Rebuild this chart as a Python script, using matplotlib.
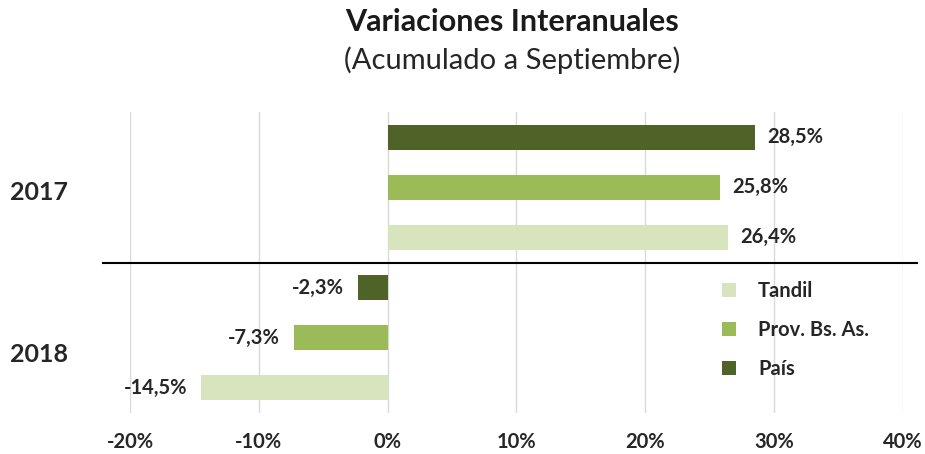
import numpy as np
import matplotlib.pyplot as plt
import matplotlib.transforms as mtransforms
from matplotlib.patches import Patch

plt.rcParams['font.family'] = ['Lato', 'DejaVu Sans']

# data
years = ['2017', '2018']
series = ['Tandil', 'Prov. Bs. As.', 'País']
values = {
    '2017': [26.4, 25.8, 28.5],
    '2018': [-14.5, -7.3, -2.3],
}
colors = ['#d7e4bd', '#9bbb59', '#4f6228']
xticks = [-20, -10, 0, 10, 20, 30, 40]

fig = plt.figure(figsize=(9.25, 4.54), dpi=100)
ax = fig.add_axes([0.1405, 0.0903, 0.8357, 0.663])

# bars: within each year País on top, Tandil at the bottom
n = len(series)
for g, yr in enumerate(years):
    for i, (name, val) in enumerate(zip(series, values[yr])):
        ypos = g * n + (n - 1 - i)
        ax.barh(ypos, val, height=0.5, color=colors[i], zorder=3)
        lbl = f'{val:.1f}%'.replace('.', ',')
        if val >= 0:
            ax.annotate(lbl, (val, ypos), xytext=(9, 0), textcoords='offset points',
                        ha='left', va='center', fontsize=14.5, fontweight='bold', color='#262626')
        else:
            ax.annotate(lbl, (val, ypos), xytext=(-10, 0), textcoords='offset points',
                        ha='right', va='center', fontsize=14.5, fontweight='bold', color='#262626')

ax.set_xlim(-20, 40)
ax.set_ylim(2 * n - 0.5, -0.5)
ax.set_xticks(xticks)
ax.set_xticklabels([f'{t}%' for t in xticks], fontsize=14.5, fontweight='bold', color='#262626')
ax.set_yticks([])
ax.tick_params(axis='x', length=0, pad=14)
ax.grid(axis='x', color='#d9d9d9', lw=1, zorder=0)
for s in ax.spines.values():
    s.set_visible(False)

# separator between years
trans = mtransforms.blended_transform_factory(ax.transAxes, ax.transData)
ax.plot([-0.035, 1.018], [n - 0.5, n - 0.5], color='black', lw=1.5,
        transform=trans, clip_on=False, zorder=4)

# year labels
fig.text(39 / 925, 1 - 193 / 454, '2017', ha='center', va='center',
         fontsize=18, fontweight='bold', color='#262626')
fig.text(39 / 925, 1 - 355 / 454, '2018', ha='center', va='center',
         fontsize=18, fontweight='bold', color='#262626')

# titles
fig.text(512 / 925, 1 - 22 / 454, 'Variaciones Interanuales', ha='center', va='center',
         fontsize=22, fontweight='bold', color='#1a1a1a')
fig.text(512 / 925, 1 - 60 / 454, '(Acumulado a Septiembre)', ha='center', va='center',
         fontsize=21, color='#262626')

handles = [Patch(facecolor=c) for c in colors]
ax.legend(handles, series, loc='upper left', bbox_to_anchor=(0.742, 0.50), frameon=False,
          handlelength=0.7, handleheight=0.7, handletextpad=1.1, labelspacing=0.95,
          prop={'size': 14.5, 'weight': 'bold'}, labelcolor='#262626')

fig.savefig('out.png', dpi=100)
